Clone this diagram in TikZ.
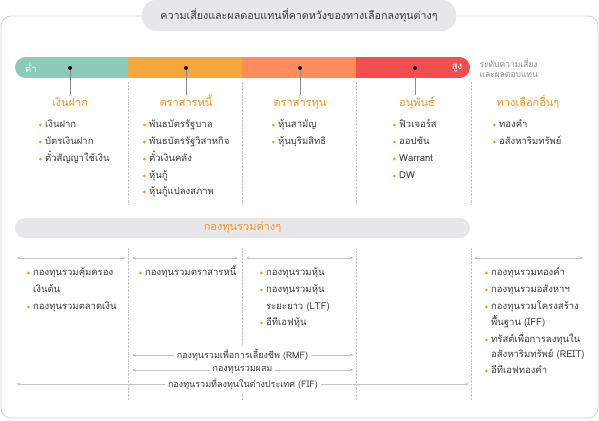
\documentclass[tikz,border=0pt]{standalone}
\usepackage{fontspec}
\setmainfont[Script=Thai]{Loma}
\usetikzlibrary{arrows.meta}
\definecolor{lowc}{HTML}{8DCBB9}
\definecolor{midc}{HTML}{F6A73B}
\definecolor{highc}{HTML}{FF8C5A}
\definecolor{topc}{HTML}{F04E4F}
\definecolor{headc}{HTML}{F7941E}
\definecolor{pillc}{HTML}{E7E7E9}
\definecolor{framec}{HTML}{D4D4D4}
\definecolor{linec}{HTML}{C4C4C4}
\definecolor{textc}{HTML}{3A3A3A}
\definecolor{sidec}{HTML}{8A8A8A}
\tikzset{
  bul/.style={circle, fill=headc, inner sep=0pt, minimum size=3pt},
  item/.style={cont, label={[bul, label distance=3pt]left:{}}},
  cont/.style={anchor=west, inner sep=0pt, text height=7pt, text depth=2.5pt,
    text=textc, font=\fontsize{9.5}{11}\selectfont},
  heading/.style={text=headc, font=\fontsize{11}{13}\selectfont, inner sep=0pt,
    text height=8pt, text depth=3pt},
  pill/.style={fill=pillc, rounded corners=10pt},
  sep/.style={draw=linec, densely dotted},
  span/.style={draw=linec, {Stealth[length=3.5pt,width=3pt]}-{Stealth[length=3.5pt,width=3pt]}},
  spanlbl/.style={fill=white, text=textc, font=\fontsize{9}{11}\selectfont, inner sep=3pt},
}
\begin{document}
\begin{tikzpicture}[x=1pt, y=-1pt]
\useasboundingbox (0,0) rectangle (599,420);
\draw[framec, line width=0.8pt, rounded corners=10pt] (1,16) rectangle (598,418);
\node[pill, rounded corners=14pt, minimum width=314pt, minimum height=31pt, text=textc,
  font=\fontsize{10.7}{13}\selectfont] (title) at (299,15.5)
  {ความเสี่ยงและผลตอบแทนที่คาดหวังของทางเลือกลงทุนต่างๆ};

\begin{scope}
\clip[rounded corners=10.5pt] (15,57) rectangle (470,78);
\fill[lowc] (15,57) rectangle (128,78);
\fill[midc] (128,57) rectangle (242,78);
\fill[highc] (242,57) rectangle (356,78);
\fill[topc] (356,57) rectangle (470,78);
\end{scope}
\node[text=white, font=\fontsize{9.5}{11}\selectfont] (low) at (31,67.5) {ต่ำ};
\node[text=white, font=\fontsize{9.5}{11}\selectfont] (high) at (457,67.5) {สูง};
\node[anchor=west, align=left, text=sidec, font=\fontsize{8.5}{10}\selectfont] (side) at (476,68)
  {ระดับความเสี่ยง\\และผลตอบแทน};

\node[heading] (h1) at (70,104) {เงินฝาก};
\node[heading] (h2) at (186,104) {ตราสารหนี้};
\node[heading] (h3) at (300,104) {ตราสารทุน};
\node[heading] (h4) at (417,104) {อนุพันธ์};
\node[heading] (h5) at (528,104) {ทางเลือกอื่นๆ};

\coordinate (d1) at (70,68);
\coordinate (d2) at (186,68);
\coordinate (d3) at (300,68);
\coordinate (d4) at (415,68);
\draw[sidec, line width=0.7pt] (d1) -- (d1 |- 0,95);
\draw[sidec, line width=0.7pt] (d2) -- (d2 |- 0,95);
\draw[sidec, line width=0.7pt] (d3) -- (d3 |- 0,95);
\draw[sidec, line width=0.7pt] (d4) -- (d4 |- 0,95);
\fill (d1) circle (2pt);
\fill (d2) circle (2pt);
\fill (d3) circle (2pt);
\fill (d4) circle (2pt);

\draw[sep] (128,82) -- (128,205);
\draw[sep] (242,82) -- (242,205);
\draw[sep] (356,82) -- (356,205);
\draw[sep] (471,82) -- (471,205);

\node[item] (a1) at (45,125) {เงินฝาก};
\node[item] (a2) at (45,142) {บัตรเงินฝาก};
\node[item] (a3) at (45,159) {ตั๋วสัญญาใช้เงิน};

\node[item] (b1) at (149,125) {พันธบัตรรัฐบาล};
\node[item] (b2) at (149,142) {พันธบัตรรัฐวิสาหกิจ};
\node[item] (b3) at (149,159) {ตั๋วเงินคลัง};
\node[item] (b4) at (149,176) {หุ้นกู้};
\node[item] (b5) at (149,192) {หุ้นกู้แปลงสภาพ};

\node[item] (c1) at (278,125) {หุ้นสามัญ};
\node[item] (c2) at (278,142) {หุ้นบุริมสิทธิ};

\node[item] (e1) at (399,125) {ฟิวเจอร์ส};
\node[item] (e2) at (399,142) {ออปชัน};
\node[item] (e3) at (399,159) {Warrant};
\node[item] (e4) at (399,176) {DW};

\node[item] (f1) at (499,125) {ทองคำ};
\node[item] (f2) at (499,142) {อสังหาริมทรัพย์};

\node[pill, minimum width=455pt, minimum height=20pt, text=headc,
  font=\fontsize{11}{13}\selectfont] (funds) at (242.5,228) {กองทุนรวมต่างๆ};

\draw[sep] (128,248) -- (128,400);
\draw[sep] (242,248) -- (242,400);
\draw[sep] (356,248) -- (356,400);
\draw[sep] (471,248) -- (471,400);

\coordinate (s1) at (17,258);
\coordinate (s2) at (125,258);
\coordinate (s3) at (132,258);
\coordinate (s4) at (238,258);
\coordinate (s5) at (246,258);
\coordinate (s6) at (353,258);
\coordinate (s7) at (474,258);
\coordinate (s8) at (583,258);
\draw[span] (s1) -- (s2);
\draw[span] (s3) -- (s4);
\draw[span] (s5) -- (s6);
\draw[span] (s7) -- (s8);

\node[item] (m1) at (33,273) {กองทุนรวมคุ้มครอง};
\node[cont] (m1b) at (33,290) {เงินต้น};
\node[item] (m2) at (33,307) {กองทุนรวมตลาดเงิน};

\node[item] (n1) at (145,273) {กองทุนรวมตราสารหนี้};

\node[item] (p1) at (266,273) {กองทุนรวมหุ้น};
\node[item] (p2) at (266,290) {กองทุนรวมหุ้น};
\node[cont] (p2b) at (266,307) {ระยะยาว (LTF)};
\node[item] (p3) at (266,323) {อีทีเอฟหุ้น};

\node[item] (q1) at (491,273) {กองทุนรวมทองคำ};
\node[item] (q2) at (491,290) {กองทุนรวมอสังหาฯ};
\node[item] (q3) at (491,307) {กองทุนรวมโครงสร้าง};
\node[cont] (q3b) at (491,323) {พื้นฐาน (IFF)};
\node[item] (q4) at (491,340) {ทรัสต์เพื่อการลงทุนใน};
\node[cont] (q4b) at (491,355) {อสังหาริมทรัพย์ (REIT)};
\node[item] (q5) at (491,371) {อีทีเอฟทองคำ};

\coordinate (r1) at (132,355);
\coordinate (r2) at (353,355);
\coordinate (r3) at (132,370);
\coordinate (r4) at (353,370);
\coordinate (r5) at (17,384);
\coordinate (r6) at (469,384);
\draw[span] (r1) -- node[spanlbl] (rmf) {กองทุนรวมเพื่อการเลี้ยงชีพ (RMF)} (r2);
\draw[span] (r3) -- node[spanlbl] (mix) {กองทุนรวมผสม} (r4);
\draw[span] (r5) -- node[spanlbl] (fif) {กองทุนรวมที่ลงทุนในต่างประเทศ (FIF)} (r6);
\end{tikzpicture}
\end{document}
